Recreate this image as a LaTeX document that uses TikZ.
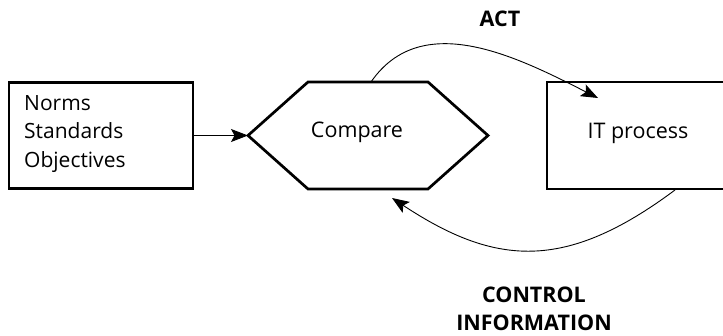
\documentclass[tikz,border=0pt]{standalone}
\usepackage{fontspec}
\setmainfont{Open Sans}
\usetikzlibrary{arrows.meta}
\begin{document}
\begin{tikzpicture}[x=1pt,y=-1pt,
  boxline/.style={line width=2.7pt,line join=miter},
  conn/.style={line width=0.9pt,-{Stealth[length=17pt,width=13pt,inset=3.5pt]}},
  lbl/.style={font=\fontsize{21.5}{28}\selectfont,inner sep=0pt},
  blbl/.style={font=\fontsize{21.5}{27.5}\bfseries\selectfont,inner sep=0pt,align=center}]
\useasboundingbox (0,0) rectangle (723,336);
\clip (0,0) rectangle (723,336);
% left box
\node[boxline,draw,minimum width=184pt,minimum height=106pt,inner sep=0pt] (nso) at (101,135.5) {};
\node[lbl,align=left,anchor=west,font=\fontsize{21}{28.5}\selectfont] (nsotxt) at (24,134) {Norms\\Standards\\Objectives};
% hexagon
\coordinate (hL) at (248,135.5);
\coordinate (hTL) at (308,82);
\coordinate (hTR) at (428,82);
\coordinate (hR) at (488,135.5);
\coordinate (hBR) at (428,189);
\coordinate (hBL) at (308,189);
\draw[boxline] (hL) -- (hTL) -- (hTR) -- (hR) -- (hBR) -- (hBL) -- cycle;
\node[lbl] (cmp) at (357,132) {Compare};
\coordinate (actS) at (371,82);
\coordinate (ciE) at (392,198);
% right box (open at right)
\node[boxline,draw,minimum width=200pt,minimum height=107pt,inner sep=0pt] (itp) at (647,135.5) {};
\node[lbl] (itptxt) at (638,133) {IT process};
\coordinate (actE) at (598,98);
\coordinate (ciS) at (675,190);
% connectors
\draw[conn] (nso.east) -- (hL);
\draw[conn] (actS) .. controls (422,8) and (519,58) .. (actE);
\draw[conn] (ciS) .. controls (565,272) and (495,266) .. (ciE);
% labels
\node[blbl] (act) at (500,19) {ACT};
\node[blbl] (ci) at (534,309) {CONTROL\\INFORMATION};
\end{tikzpicture}
\end{document}
